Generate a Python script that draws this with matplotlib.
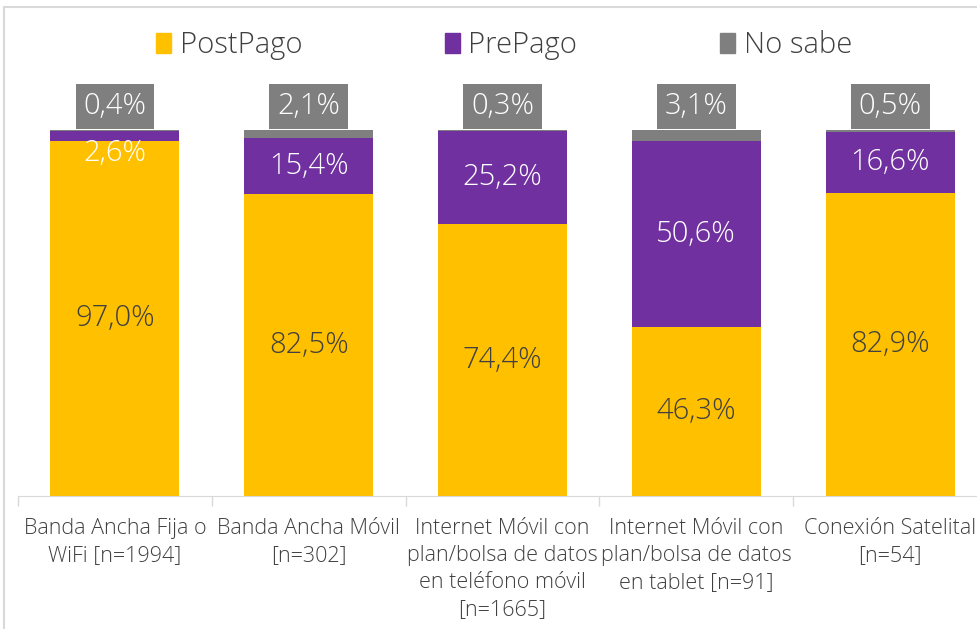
import matplotlib.pyplot as plt
import numpy as np
from matplotlib.patches import Patch, Rectangle

plt.rcParams['font.family'] = ['Open Sans', 'DejaVu Sans']

categorias = ['Banda Ancha Fija o\nWiFi [n=1994]',
              'Banda Ancha Móvil\n[n=302]',
              'Internet Móvil con\nplan/bolsa de datos\nen teléfono móvil\n[n=1665]',
              'Internet Móvil con\nplan/bolsa de datos\nen tablet [n=91]',
              'Conexión Satelital\n[n=54]']
postpago = [97.0, 82.5, 74.4, 46.3, 82.9]
prepago = [2.6, 15.4, 25.2, 50.6, 16.6]
no_sabe = [0.4, 2.1, 0.3, 3.1, 0.5]

amarillo = '#FFC000'
morado = '#7030A0'
gris = '#7F7F7F'
texto = '#404040'

def fmt(v):
    return ('%.1f%%' % v).replace('.', ',')

fig = plt.figure(figsize=(9.77, 6.29), dpi=100)
ax = fig.add_axes([18/977, 133/629, 969/977, 402.6/629])

x = np.arange(len(categorias))
w = 0.665
post = np.array(postpago)
pre = np.array(prepago)
ns = np.array(no_sabe)

ax.bar(x, post, w, color=amarillo, zorder=2)
ax.bar(x, pre, w, bottom=post, color=morado, zorder=2)
ax.bar(x, ns, w, bottom=post + pre, color=gris, zorder=2)

fs = 21

# etiquetas de PostPago (centradas en el segmento)
for i in x:
    ax.text(i, post[i] / 2, fmt(post[i]), ha='center', va='center',
            fontsize=fs, color=texto, fontweight='light')

# etiquetas de PrePago
for i in x:
    yy = post[i] + pre[i] / 2
    if pre[i] < 5:
        yy = 93.6
    ax.text(i, yy, fmt(pre[i]), ha='center', va='center',
            fontsize=fs, color='white', fontweight='light')

# etiquetas de No sabe en caja gris sobre la barra
for i in x:
    ax.text(i, 106.4, fmt(ns[i]), ha='center', va='center',
            fontsize=fs, color='white', fontweight='light', clip_on=False,
            bbox=dict(boxstyle='square,pad=0.27', fc=gris, ec='none'))

ax.set_xlim(-0.495, 4.5)
ax.set_ylim(0, 110)
ax.set_yticks([])
ax.set_xticks(x)
ax.set_xticklabels(categorias, fontsize=15.5, color=texto, linespacing=1.38,
                   fontweight='light')
ax.tick_params(axis='x', which='major', length=0, pad=16)
ax.set_xticks(np.arange(0, 5) - 0.5, minor=True)
ax.tick_params(axis='x', which='minor', length=7, color='#D9D9D9', width=1)
for s in ['top', 'right', 'left']:
    ax.spines[s].set_visible(False)
ax.spines['bottom'].set_color('#D9D9D9')

handles = [Patch(color=amarillo), Patch(color=morado), Patch(color=gris)]
fig.legend(handles, ['PostPago', 'PrePago', 'No sabe'], loc='center',
           bbox_to_anchor=(0.516, 0.928), ncol=3, frameon=False,
           handlelength=0.5, handleheight=0.65,
           handletextpad=0.3, columnspacing=4.9,
           prop={'size': 21, 'weight': 'light'}, labelcolor=texto)

# borde del área del gráfico
fig.patches.append(Rectangle((4/977, -0.1), 1.1, 1 - 7/629 + 0.1,
                             transform=fig.transFigure, fill=False,
                             ec='#D9D9D9', lw=1.5))

fig.savefig('out.png', dpi=100, facecolor='white')
